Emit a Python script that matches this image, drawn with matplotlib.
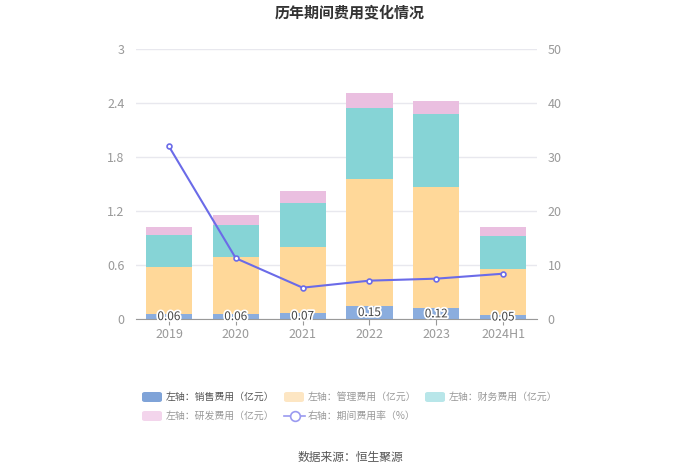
import matplotlib.pyplot as plt
import matplotlib.patheffects as pe
from matplotlib.patches import FancyBboxPatch
from matplotlib.lines import Line2D
import numpy as np

plt.rcParams['font.family'] = ['Noto Sans CJK SC', 'DejaVu Sans']

years = ['2019', '2020', '2021', '2022', '2023', '2024H1']
sales = [0.06, 0.06, 0.07, 0.15, 0.12, 0.05]
admin = [0.524, 0.629, 0.737, 1.406, 1.347, 0.512]
finance = [0.356, 0.362, 0.485, 0.792, 0.817, 0.367]
rnd = [0.089, 0.111, 0.13, 0.163, 0.142, 0.093]
rate = [32.0, 11.3, 5.85, 7.15, 7.52, 8.44]

c_sales = '#8badde'
c_admin = '#ffd899'
c_fin = '#86d4d6'
c_rnd = '#eabfe0'
c_line = '#6b6be8'
grey = '#999999'

W, H = 700, 473
fig = plt.figure(figsize=(7, 4.73), dpi=100)
ax = fig.add_axes([0.1936, 0.325, 0.573, 0.571])
ax2 = ax.twinx()

x = np.arange(len(years))
w = 0.69
b1 = np.array(sales)
b2 = b1 + np.array(admin)
b3 = b2 + np.array(finance)
ax.bar(x, sales, w, color=c_sales, zorder=2)
ax.bar(x, admin, w, bottom=b1, color=c_admin, zorder=2)
ax.bar(x, finance, w, bottom=b2, color=c_fin, zorder=2)
ax.bar(x, rnd, w, bottom=b3, color=c_rnd, zorder=2)

for xi, v in zip(x, sales):
    ax.text(xi, v / 2, f'{v:.2f}', ha='center', va='center', fontsize=8.5,
            color='#444444', zorder=5,
            path_effects=[pe.withStroke(linewidth=2.5, foreground='white')])

ax2.plot(x, rate, color=c_line, lw=1.5, marker='o', ms=3.5,
         mfc='white', mec=c_line, mew=1.2, zorder=4)

ax.set_xlim(-0.5, len(years) - 0.5)
ax.set_ylim(0, 3)
ax.set_yticks([0, 0.6, 1.2, 1.8, 2.4, 3])
ax.set_yticklabels(['0', '0.6', '1.2', '1.8', '2.4', '3'])
ax2.set_ylim(0, 50)
ax2.set_yticks([0, 10, 20, 30, 40, 50])
ax.set_xticks(x)
ax.set_xticklabels(years)

ax.grid(axis='y', color='#e8e8ee', lw=1, zorder=0)
ax.set_axisbelow(True)
for a in (ax, ax2):
    for s in ['top', 'right', 'left', 'bottom']:
        a.spines[s].set_visible(False)
ax.spines['bottom'].set_visible(True)
ax.spines['bottom'].set_color('#999999')
ax.tick_params(axis='y', length=0, colors=grey, labelsize=9, pad=8)
ax2.tick_params(axis='y', length=0, colors=grey, labelsize=9, pad=8)
ax.tick_params(axis='x', length=4, color='#999999', colors=grey, labelsize=9, pad=2)

fig.text(0.5, 1 - 12 / H, '历年期间费用变化情况', ha='center', va='center',
         fontsize=10.8, fontweight='bold', color='#333333')

# legend, drawn by hand in pixel positions (first entry highlighted, rest faded)
legend_items = [
    ('patch', '#7fa3d8', '左轴：销售费用（亿元）', 142, 397, '#555555'),
    ('patch', '#fde6c3', '左轴：管理费用（亿元）', 284, 397, '#999999'),
    ('patch', '#b8e6e9', '左轴：财务费用（亿元）', 425, 397, '#999999'),
    ('patch', '#f3d5ec', '左轴：研发费用（亿元）', 142, 416, '#999999'),
    ('line', '#9a9af0', '右轴：期间费用率（%）', 284, 416, '#999999'),
]
for kind, col, lab, px, py, tc in legend_items:
    if kind == 'patch':
        p = FancyBboxPatch((px / W, 1 - (py + 5) / H), 20 / W, 10 / H,
                           boxstyle='round,pad=0,rounding_size=0.004',
                           transform=fig.transFigure, facecolor=col,
                           edgecolor='none')
        fig.patches.append(p)
    else:
        fig.lines.append(Line2D([px / W, (px + 21) / W], [1 - py / H] * 2,
                                transform=fig.transFigure, color=col, lw=1.2))
        fig.lines.append(Line2D([(px + 10.5) / W], [1 - py / H],
                                transform=fig.transFigure, color=col, marker='o',
                                ms=7, mfc='white', mec=col, mew=1.2))
    fig.text((px + 24) / W, 1 - py / H, lab, ha='left', va='center',
             fontsize=7.1, color=tc)

fig.text(0.5, 1 - 457 / H, '数据来源：恒生聚源', ha='center', va='center',
         fontsize=8.5, color='#555555')

fig.savefig('out.png', dpi=100)
